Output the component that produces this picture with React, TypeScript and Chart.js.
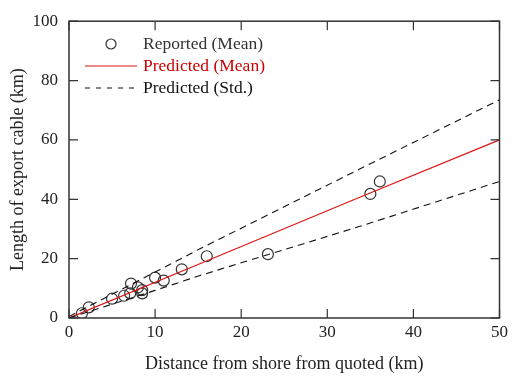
import React, { useEffect, useRef } from "react";
import { Chart, registerables } from "chart.js";
Chart.register(...registerables);

const reportedX = [1.5, 2.3, 5.0, 6.4, 7.1, 7.2, 8.0, 8.5, 8.5, 10.0, 11.0, 13.1, 16.0, 23.1, 35.0, 36.1];
const reportedY = [1.6, 3.6, 6.5, 7.5, 8.3, 11.6, 10.3, 9.4, 8.3, 13.6, 12.6, 16.4, 20.8, 21.5, 41.8, 46.0];
const predMeanX = [0, 15.2, 33.7, 50];
const predMeanY = [0, 18.3, 40.6, 60];
const stdUpperX = [0, 15.2, 33.7, 50];
const stdUpperY = [0.5, 23.3, 50.1, 73.5];
const stdLowerX = [0, 10, 15.2, 33.7, 50];
const stdLowerY = [0, 9.3, 14.3, 30.8, 46];
const xTicks = [0, 10, 20, 30, 40, 50];
const yTicks = [0, 20, 40, 60, 80, 100];
const legendLabels = ["Reported (Mean)", "Predicted (Mean)", "Predicted (Std.)"];
const xTitle = "Distance from shore from quoted (km)";
const yTitle = "Length of export cable (km)";

const FONT = "'Liberation Serif', 'Times New Roman', serif";
const RED = "#dd1515";

const toPts = (xs: number[], ys: number[]) => xs.map((x, i) => ({ x, y: ys[i] }));

const framePlugin = {
  id: "frame",
  afterDatasetsDraw(chart: any) {
    const { ctx, chartArea: a, scales } = chart;
    const xs = scales.x, ys = scales.y;
    ctx.save();
    ctx.strokeStyle = "#333";
    ctx.lineWidth = 1.5;
    ctx.setLineDash([]);
    ctx.strokeRect(a.left, a.top, a.right - a.left, a.bottom - a.top);
    const tl = 9;
    ctx.lineWidth = 1.2;
    ctx.beginPath();
    xTicks.forEach((v) => {
      const p = xs.getPixelForValue(v);
      ctx.moveTo(p, a.bottom); ctx.lineTo(p, a.bottom - tl);
      ctx.moveTo(p, a.top); ctx.lineTo(p, a.top + tl);
    });
    yTicks.forEach((v) => {
      const p = ys.getPixelForValue(v);
      ctx.moveTo(a.left, p); ctx.lineTo(a.left + tl, p);
      ctx.moveTo(a.right, p); ctx.lineTo(a.right - tl, p);
    });
    ctx.stroke();

    // legend
    const lx0 = 85, lx1 = 137, tx = 143;
    const rows = [44, 66, 88];
    ctx.lineWidth = 1.2;
    ctx.strokeStyle = "#333";
    ctx.beginPath();
    ctx.arc(111, rows[0], 5, 0, Math.PI * 2);
    ctx.stroke();
    ctx.strokeStyle = RED;
    ctx.lineWidth = 1;
    ctx.beginPath();
    ctx.moveTo(lx0, rows[1]); ctx.lineTo(lx1, rows[1]);
    ctx.stroke();
    ctx.strokeStyle = "#111";
    ctx.setLineDash([5, 6]);
    ctx.beginPath();
    ctx.moveTo(lx0, rows[2]); ctx.lineTo(lx1, rows[2]);
    ctx.stroke();
    ctx.setLineDash([]);
    ctx.font = `17.5px ${FONT}`;
    ctx.textBaseline = "middle";
    ctx.textAlign = "left";
    const colors = ["#333", "#cc0000", "#111"];
    legendLabels.forEach((t, i) => {
      ctx.fillStyle = colors[i];
      ctx.fillText(t, tx, rows[i]);
    });
    ctx.restore();
  },
};

export default function App() {
  const ref = useRef<HTMLCanvasElement>(null);
  useEffect(() => {
    if (!ref.current) return;
    const chart = new Chart(ref.current, {
      type: "scatter",
      data: {
        datasets: [
          {
            label: legendLabels[2] + " upper",
            data: toPts(stdUpperX, stdUpperY),
            showLine: true,
            borderColor: "#111",
            borderWidth: 1.1,
            borderDash: [7, 5],
            pointRadius: 0,
            fill: false,
          },
          {
            label: legendLabels[2] + " lower",
            data: toPts(stdLowerX, stdLowerY),
            showLine: true,
            borderColor: "#111",
            borderWidth: 1.1,
            borderDash: [7, 5],
            pointRadius: 0,
            fill: false,
          },
          {
            label: legendLabels[1],
            data: toPts(predMeanX, predMeanY),
            showLine: true,
            borderColor: RED,
            borderWidth: 1.2,
            pointRadius: 0,
            fill: false,
          },
          {
            label: legendLabels[0],
            data: toPts(reportedX, reportedY),
            showLine: false,
            pointRadius: 5.5,
            pointBorderColor: "#333",
            pointBackgroundColor: "rgba(0,0,0,0)",
            pointBorderWidth: 1.2,
          },
        ],
      },
      options: {
        responsive: false,
        animation: false,
        layout: { padding: { left: 0, top: 19, right: 11, bottom: 0 } },
        plugins: { legend: { display: false }, tooltip: { enabled: false } },
        scales: {
          x: {
            type: "linear",
            min: 0,
            max: 50,
            afterFit: (s: any) => { s.height = 60; },
            afterBuildTicks: (s: any) => { s.ticks = xTicks.map((v) => ({ value: v })); },
            grid: { display: false, drawTicks: false },
            border: { display: false },
            ticks: { color: "#222", font: { family: FONT, size: 17 }, padding: 4, maxRotation: 0 },
            title: { display: true, text: xTitle, color: "#222", font: { family: FONT, size: 18 }, padding: { top: 0, bottom: 3 } },
          },
          y: {
            type: "linear",
            min: 0,
            max: 100,
            afterFit: (s: any) => { s.width = 69; },
            afterBuildTicks: (s: any) => { s.ticks = yTicks.map((v) => ({ value: v })); },
            grid: { display: false, drawTicks: false },
            border: { display: false },
            ticks: { color: "#222", font: { family: FONT, size: 17 }, padding: 11 },
            title: { display: true, text: yTitle, color: "#222", font: { family: FONT, size: 18 }, padding: { top: 7, bottom: 0 } },
          },
        },
      },
      plugins: [framePlugin],
    } as any);
    return () => chart.destroy();
  }, []);
  return (
    <div style={{ position: "absolute", left: 0, top: 0, width: 512, height: 378, background: "#fff" }}>
      <canvas ref={ref} width={512} height={378} />
    </div>
  );
}
